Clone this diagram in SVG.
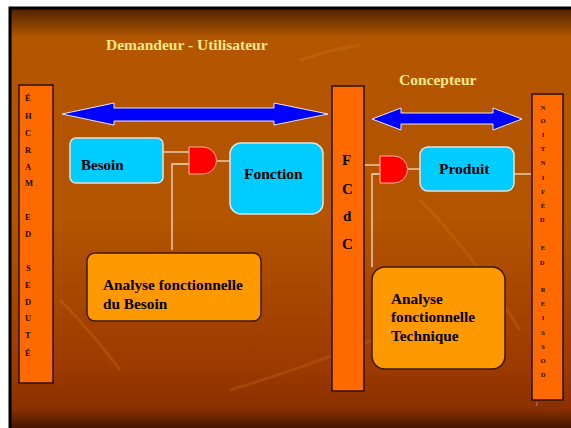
<svg xmlns="http://www.w3.org/2000/svg" width="571" height="428" viewBox="0 0 571 428">
<defs>
<linearGradient id="bg" x1="0" y1="0" x2="0" y2="1">
<stop offset="0" stop-color="#4a2200"/>
<stop offset="0.07" stop-color="#b35600"/>
<stop offset="0.5" stop-color="#b35400"/>
<stop offset="0.85" stop-color="#9c3a00"/>
<stop offset="0.95" stop-color="#8a3000"/>
<stop offset="1" stop-color="#3a1400"/>
</linearGradient>
<style>
.bar{fill:#ff6a00;stroke:#2a1000;stroke-width:1.5}
.cyan{fill:#00ccff;stroke:#e8e0d8;stroke-width:1.5}
.org{fill:#ff9900;stroke:#3a1800;stroke-width:1.5}
.gate{fill:#ff0000;stroke:#ffb0a0;stroke-width:1}
.arr{fill:#0000ff;stroke:#e8e8f0;stroke-width:1}
.ln{fill:none;stroke:#f0dcc8;stroke-width:1.3}
.t{font-family:"Liberation Serif",serif;font-weight:bold;fill:#000}
.title{font-family:"Liberation Serif",serif;font-weight:bold;fill:#ffe88a;font-size:15.5px}
.col{font-family:"Liberation Serif",serif;font-weight:bold;fill:#1a0a00}
</style>
</defs>
<rect x="0" y="0" width="571" height="428" fill="#ffffff"/>
<rect x="10" y="8" width="563" height="422" fill="url(#bg)" stroke="#000" stroke-width="3"/>
<g opacity="0.22" fill="none" stroke="#d88a20" stroke-width="3">
<path d="M230 390 Q330 360 420 320"/>
<path d="M300 60 Q330 50 360 45"/>
<path d="M420 200 Q470 250 520 330"/>
<path d="M60 300 Q90 330 120 370"/>
</g>

<text class="title" x="106" y="50">Demandeur - Utilisateur</text>
<text class="title" x="399" y="85">Concepteur</text>

<g id="connectors">
<path class="arr" d="M62 114 L114 103 L114 108 L274 108 L274 103 L328 114 L274 125 L274 121 L114 121 L114 125 Z"/>
<path class="arr" d="M372 119 L401 108 L401 113 L493 113 L493 108 L522 119 L493 130 L493 124 L401 124 L401 130 Z"/>
<path class="ln" d="M163 152 L189 152"/>
<path class="ln" d="M217 161 L230 161"/>
<path class="ln" d="M189 164 L172 164 L172 250"/>
<path class="ln" d="M364 165 L380 165" stroke="#ffffff"/>
<path class="ln" d="M408 169 L420 169"/>
<path class="ln" d="M380 174 L372 174 L372 267"/>
<path class="ln" d="M514 174 L532 174"/>
</g>

<g id="left-bar">
<rect class="bar" x="19" y="85" width="34" height="298"/>
<text class="col" font-size="8.5">
<tspan x="25" y="101">É</tspan><tspan x="25" y="119">H</tspan><tspan x="25" y="136">C</tspan><tspan x="25" y="153">R</tspan><tspan x="25" y="170">A</tspan><tspan x="25" y="186">M</tspan>
<tspan x="25" y="220">E</tspan><tspan x="25" y="237">D</tspan>
<tspan x="26" y="271">S</tspan><tspan x="25" y="288">E</tspan><tspan x="25" y="305">D</tspan><tspan x="25" y="321">U</tspan><tspan x="25" y="338">T</tspan><tspan x="25" y="356">É</tspan>
</text>
</g>

<g id="fcdc-bar">
<rect class="bar" x="332" y="86" width="32" height="305"/>
<text class="t" font-size="15"><tspan x="342" y="165">F</tspan><tspan x="342" y="194">C</tspan><tspan x="343" y="221">d</tspan><tspan x="342" y="249">C</tspan></text>
</g>

<g id="right-bar">
<rect class="bar" x="532" y="94" width="31" height="306"/>
<text class="col" font-size="6.5" text-anchor="middle">
<tspan x="543" y="110">N</tspan><tspan x="543" y="123">O</tspan><tspan x="543" y="137">I</tspan><tspan x="543" y="151">T</tspan><tspan x="543" y="165">N</tspan><tspan x="543" y="180">I</tspan><tspan x="543" y="194">F</tspan><tspan x="543" y="208">É</tspan><tspan x="543" y="222">D</tspan>
<tspan x="543" y="250">E</tspan><tspan x="543" y="265">D</tspan>
<tspan x="543" y="292">R</tspan><tspan x="543" y="306">E</tspan><tspan x="543" y="320">I</tspan><tspan x="543" y="335">S</tspan><tspan x="543" y="349">S</tspan><tspan x="543" y="363">O</tspan><tspan x="543" y="377">D</tspan>
</text>
<text x="536" y="406" font-family="Liberation Sans,sans-serif" font-size="6" fill="#d8d0c8">/</text>
</g>

<g id="besoin">
<rect class="cyan" x="70" y="138" width="93" height="45" rx="6"/>
<text class="t" font-size="15" x="81" y="170">Besoin</text>
</g>

<g id="gate1">
<path class="gate" d="M189 147 L203 147 A13.5 13.5 0 0 1 203 174 L189 174 Z"/>
</g>

<g id="fonction">
<rect class="cyan" x="230" y="143" width="93" height="71" rx="11"/>
<text class="t" font-size="15.5" x="244" y="179">Fonction</text>
</g>

<g id="analyse-besoin">
<rect class="org" x="87" y="253" width="174" height="68" rx="8"/>
<text class="t" font-size="15.3"><tspan x="103" y="290">Analyse fonctionnelle</tspan><tspan x="103" y="309">du Besoin</tspan></text>
</g>

<g id="gate2">
<path class="gate" d="M380 156 L394 156 A13.5 13.5 0 0 1 394 183 L380 183 Z"/>
</g>

<g id="produit">
<rect class="cyan" x="420" y="147" width="94" height="44" rx="8"/>
<text class="t" font-size="15.5" x="439" y="174">Produit</text>
</g>

<g id="analyse-technique">
<rect class="org" x="372" y="267" width="133" height="102" rx="13"/>
<text class="t" font-size="15.3"><tspan x="391" y="304">Analyse</tspan><tspan x="391" y="322">fonctionnelle</tspan><tspan x="391" y="341">Technique</tspan></text>
</g>
</svg>
